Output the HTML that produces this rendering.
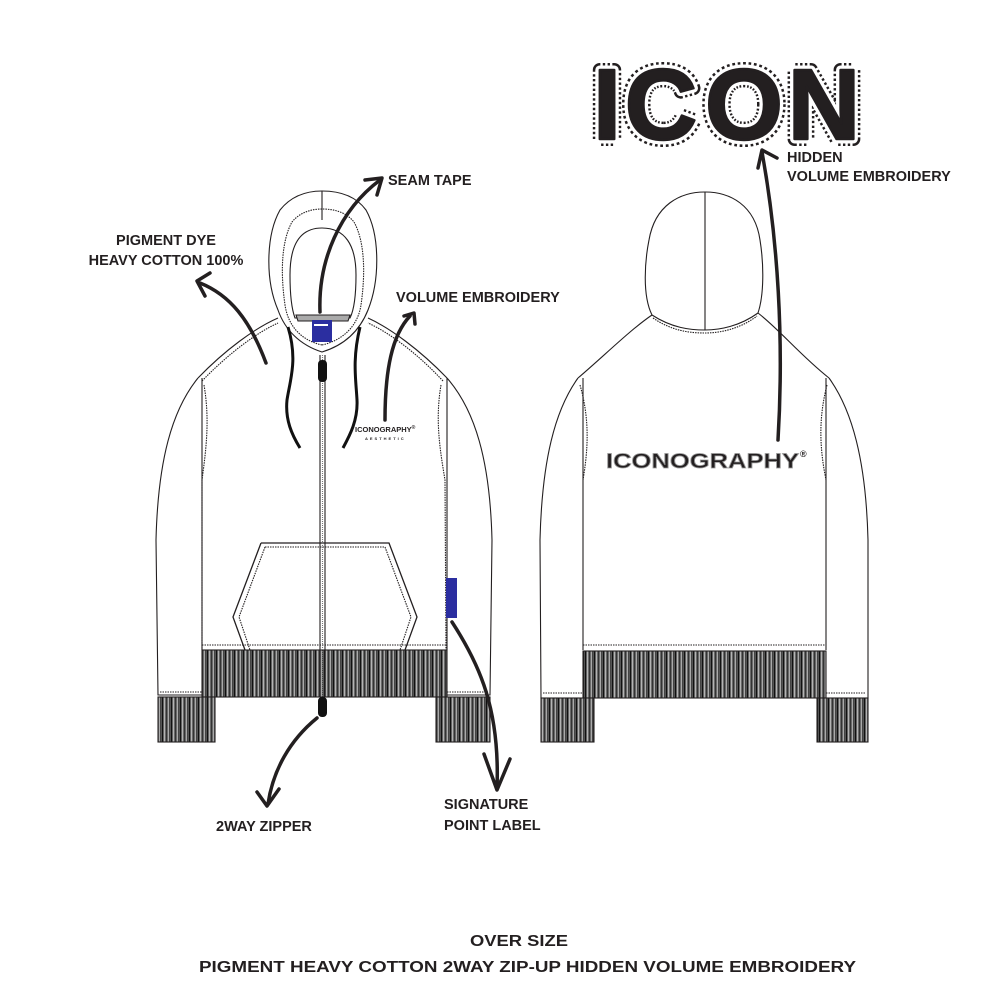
<!DOCTYPE html>
<html><head><meta charset="utf-8"><style>
html,body{margin:0;padding:0;background:#fff;}
svg{display:block;}
text{font-family:"Liberation Sans",Arial,sans-serif;fill:#231f20;}
</style></head><body>
<svg width="1000" height="1000" viewBox="0 0 1000 1000" xmlns="http://www.w3.org/2000/svg">
<defs>
<pattern id="rib" width="9" height="10" patternUnits="userSpaceOnUse">
<rect width="9" height="10" fill="#777"/>
<rect x="0" width="1.2" height="10" fill="#111"/>
<rect x="2.2" width="0.6" height="10" fill="#ddd"/>
<rect x="3.8" width="1.4" height="10" fill="#333"/>
<rect x="6" width="0.6" height="10" fill="#ccc"/>
<rect x="7.4" width="1" height="10" fill="#222"/>
</pattern>
</defs>
<g fill="none" stroke="#231f20" stroke-width="1.1">
<path d="M198 378 C172 410 158 460 156 540 L158 695 L202 695"/>
<path d="M447 378 C475 410 490 460 492 540 L490 695 L447 695"/>
<path d="M204 385 C210 420 206 450 202 480 L202 650" stroke-dasharray="1.5 1"/>
<path d="M441 385 C435 420 440 450 445 480 L446 650" stroke-dasharray="1.5 1"/>
<path d="M202 378 L202 650 M447 378 L447 650"/>
<path d="M198 378 C225 350 255 328 278 318"/>
<path d="M447 378 C420 350 390 328 368 318"/>
<path d="M202 381 C228 354 256 333 278 323 M443 381 C418 354 390 333 368 323" stroke-dasharray="1.5 1"/>
<path d="M322 352 C300 345 285 330 278 310 C265 280 266 235 280 210 C292 195 308 191 322 191 C338 191 355 195 366 210 C380 235 380 280 368 310 C360 330 345 345 322 352 Z" fill="#fff"/>
<path d="M322 345 C300 340 288 325 285 305 C280 270 282 240 292 222 C300 212 312 209 322 209 C334 209 346 212 354 222 C364 240 366 270 361 305 C358 325 344 340 322 345" stroke-dasharray="1.5 1"/>
<path d="M322 228 C300 228 290 245 290 275 C290 295 292 310 295 318 L350 318 C354 310 356 295 356 275 C356 245 345 228 322 228 Z"/>
<path d="M296 315 L350 315 L348 321 L298 321 Z" fill="#aaa"/>
<path d="M322 191 L322 220"/>
<path d="M202 645 L447 645" stroke-dasharray="1.5 1"/>
<rect x="202" y="650" width="245" height="47" fill="url(#rib)"/>
<rect x="158" y="697" width="57" height="45" fill="url(#rib)"/>
<rect x="436" y="697" width="54" height="45" fill="url(#rib)"/>
<path d="M160 692 L202 692 M447 692 L488 692" stroke-dasharray="1.5 1"/>
<path d="M261 543 L389 543 L417 617 L405 650 M261 543 L233 617 L245 650" stroke-width="1.3"/>
<path d="M265 547 L385 547 L411 617 L400 650 M265 547 L239 617 L250 650" stroke-dasharray="1.5 1"/>
<path d="M320 355 L320 697 M325 355 L325 697" />
<path d="M322.5 355 L322.5 697" stroke="#777" stroke-dasharray="1 1"/>
</g>
<rect x="318" y="360" width="9" height="22" rx="4" fill="#111"/>
<rect x="318" y="697" width="9" height="20" rx="4" fill="#111"/>
<path d="M288 327 C298 360 290 380 287 400 C285 420 292 435 300 448" fill="none" stroke="#111" stroke-width="3"/>
<path d="M360 327 C352 360 356 380 357 400 C358 420 350 435 343 448" fill="none" stroke="#111" stroke-width="3"/>
<rect x="312" y="320" width="20" height="22" fill="#2b2ea0"/>
<rect x="314" y="324" width="14" height="2" fill="#fff"/>
<rect x="446" y="578" width="11" height="40" fill="#2b2ea0"/>
<text x="355" y="432" font-size="7.5" font-weight="bold">ICONOGRAPHY<tspan font-size="5" dy="-3">®</tspan></text>
<text x="365" y="440" font-size="4" font-weight="bold" letter-spacing="2">AESTHETIC</text>

<g fill="none" stroke="#231f20" stroke-width="1.1">
<path d="M578 378 C555 410 542 460 540 540 L541 698 L583 698"/>
<path d="M829 378 C852 410 866 460 868 540 L868 698 L826 698"/>
<path d="M583 378 L583 650 M826 378 L826 650"/>
<path d="M580 385 C590 420 588 450 583 480 M827 385 C818 420 820 450 826 480" stroke-dasharray="1.5 1"/>
<path d="M578 378 C605 355 630 330 652 315"/>
<path d="M829 378 C800 355 780 330 758 313"/>
<path d="M652 315 C642 295 645 260 649 240 C655 205 680 192 705 192 C730 192 755 205 760 240 C764 265 764 295 758 313"/>
<path d="M652 315 C672 328 690 330 705 330 C720 330 740 326 758 313"/>
<path d="M653 318 C672 331 690 333 705 333 C720 333 740 329 757 316" stroke-dasharray="1.5 1"/>
<path d="M705 192 L705 330"/>
<path d="M583 645 L826 645" stroke-dasharray="1.5 1"/>
<rect x="583" y="651" width="243" height="47" fill="url(#rib)"/>
<rect x="541" y="698" width="53" height="44" fill="url(#rib)"/>
<rect x="817" y="698" width="51" height="44" fill="url(#rib)"/>
<path d="M543 693 L583 693 M826 693 L866 693" stroke-dasharray="1.5 1"/>
</g>
<text x="606" y="468" font-size="21.5" font-weight="bold" stroke="#999" stroke-width="0.8" textLength="193" lengthAdjust="spacingAndGlyphs">ICONOGRAPHY</text>
<text x="800" y="457" font-size="9" font-weight="bold">®</text>

<!-- ICON -->
<g font-size="100" font-weight="bold" text-anchor="middle" stroke-linejoin="round">
<g fill="#fff" stroke="#231f20" stroke-width="14" stroke-dasharray="2.4 2.4">
<text x="607" y="139">I</text><text x="661" y="139">C</text><text x="744" y="139">O</text><text x="824" y="139">N</text>
</g>
<g fill="#fff" stroke="#fff" stroke-width="9">
<text x="607" y="139">I</text><text x="661" y="139">C</text><text x="744" y="139">O</text><text x="824" y="139">N</text>
</g>
<g fill="#231f20" stroke="#231f20" stroke-width="2.5">
<text x="607" y="139">I</text><text x="661" y="139">C</text><text x="744" y="139">O</text><text x="824" y="139">N</text>
</g>
</g>

<g fill="none" stroke="#231f20" stroke-width="3.5" stroke-linecap="round" stroke-linejoin="round">
<path d="M266 363 C250 320 230 295 200 283"/>
<path d="M210 273 L197 281 L205 296"/>
<path d="M320 312 C318 260 340 210 380 180"/>
<path d="M365 180 L382 178 L377 195"/>
<path d="M385 420 C385 370 392 335 410 316"/>
<path d="M404 316 L414 313 L415 324"/>
<path d="M317 718 C290 740 273 770 268 804"/>
<path d="M257 792 L267 806 L279 789"/>
<path d="M452 622 C480 665 500 710 497 788"/>
<path d="M484 754 L497 790 L510 759"/>
<path d="M778 440 C784 340 778 240 762 152"/>
<path d="M758 168 L762 150 L777 158"/>
</g>

<g font-size="14.5" font-weight="bold">
<text x="388" y="185">SEAM TAPE</text>
<text x="166" y="245" text-anchor="middle">PIGMENT DYE</text>
<text x="166" y="265" text-anchor="middle">HEAVY COTTON 100%</text>
<text x="396" y="302">VOLUME EMBROIDERY</text>
<text x="787" y="162">HIDDEN</text>
<text x="787" y="181">VOLUME EMBROIDERY</text>
<text x="216" y="831">2WAY ZIPPER</text>
<text x="444" y="809">SIGNATURE</text>
<text x="444" y="830">POINT LABEL</text>
</g>
<text x="470" y="946" font-size="16" font-weight="bold" textLength="98" lengthAdjust="spacingAndGlyphs">OVER SIZE</text>
<text x="199" y="972" font-size="16" font-weight="bold" textLength="657" lengthAdjust="spacingAndGlyphs">PIGMENT HEAVY COTTON 2WAY ZIP-UP HIDDEN VOLUME EMBROIDERY</text>
</svg>
</body></html>
